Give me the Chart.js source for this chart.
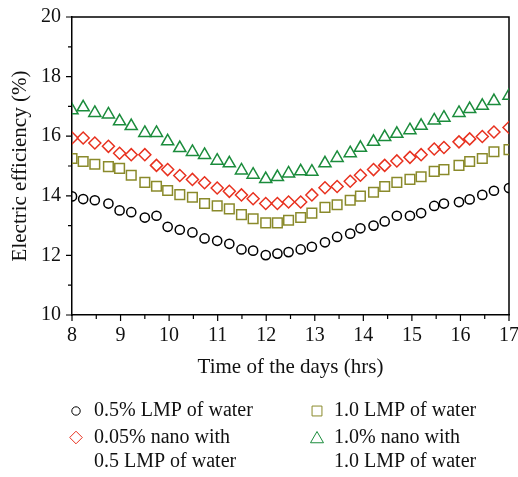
<!DOCTYPE html>
<html>
<head>
<meta charset="utf-8">
<script src="https://cdn.jsdelivr.net/npm/chart.js@4.4.1/dist/chart.umd.min.js"></script>
<style>
  html, body { margin: 0; padding: 0; background: #ffffff; }
  #wrap { width: 518px; height: 477px; position: relative; }
</style>
</head>
<body>
<div id="wrap"><canvas id="c" width="518" height="477"></canvas></div>
<script>
// ---- Data ----
const hours = [8.0, 8.23, 8.47, 8.75, 8.98, 9.22, 9.5, 9.74, 9.97, 10.22, 10.48, 10.73, 10.99, 11.24, 11.49, 11.73, 11.99, 12.23, 12.46, 12.71, 12.94, 13.21, 13.46, 13.73, 13.94, 14.21, 14.44, 14.69, 14.96, 15.19, 15.46, 15.66, 15.97, 16.19, 16.45, 16.69, 17.0];

const lmp05Water = [13.98, 13.89, 13.85, 13.74, 13.51, 13.45, 13.27, 13.33, 12.96, 12.86, 12.77, 12.57, 12.49, 12.39, 12.20, 12.16, 12.01, 12.06, 12.11, 12.20, 12.29, 12.44, 12.62, 12.73, 12.91, 13.00, 13.14, 13.33, 13.33, 13.42, 13.66, 13.74, 13.79, 13.88, 14.03, 14.17, 14.26];

const nano005Lmp05 = [15.94, 15.94, 15.77, 15.66, 15.43, 15.38, 15.38, 15.02, 14.88, 14.68, 14.55, 14.44, 14.26, 14.15, 14.03, 13.90, 13.74, 13.74, 13.79, 13.79, 14.03, 14.27, 14.31, 14.49, 14.69, 14.88, 15.02, 15.17, 15.29, 15.38, 15.57, 15.62, 15.81, 15.91, 15.99, 16.14, 16.29];

const lmp10Water = [15.25, 15.15, 15.06, 14.98, 14.92, 14.69, 14.45, 14.32, 14.18, 14.04, 13.95, 13.74, 13.66, 13.56, 13.37, 13.23, 13.09, 13.09, 13.18, 13.27, 13.42, 13.61, 13.70, 13.85, 13.99, 14.12, 14.31, 14.45, 14.55, 14.64, 14.82, 14.88, 15.02, 15.15, 15.25, 15.48, 15.55];

const nano10Lmp10 = [16.87, 16.97, 16.78, 16.73, 16.50, 16.34, 16.11, 16.11, 15.83, 15.60, 15.47, 15.37, 15.18, 15.09, 14.85, 14.71, 14.56, 14.63, 14.75, 14.82, 14.81, 15.09, 15.27, 15.43, 15.61, 15.81, 15.97, 16.08, 16.20, 16.35, 16.53, 16.62, 16.78, 16.91, 17.02, 17.18, 17.36];

const seriesLabels = [
  ["0.5% LMP of water"],
  ["0.05% nano with", "0.5 LMP of water"],
  ["1.0 LMP of water"],
  ["1.0% nano with", "1.0 LMP of water"]
];

const xTickValues = [8, 9, 10, 11, 12, 13, 14, 15, 16, 17];
const yTickValues = [10, 12, 14, 16, 18, 20];
const xTitle = "Time of the days (hrs)";
const yTitle = "Electric efficiency (%)";

// ---- Styles ----
const FONT = "'Liberation Serif', 'DejaVu Serif', serif";
const styles = [
  { color: '#000000', pointStyle: 'circle',   radius: 4.6, legendRadius: 4.2 },
  { color: '#e8311f', pointStyle: 'rectRot',  radius: 6.0, legendRadius: 6.3 },
  { color: '#8a8a2b', pointStyle: 'rect',     radius: 6.8, legendRadius: 7.0 },
  { color: '#1b8c3c', pointStyle: 'triangle', radius: 7.0, legendRadius: 7.5 }
];
const seriesValues = [lmp05Water, nano005Lmp05, lmp10Water, nano10Lmp10];

function toPoints(xs, ys) { return xs.map((x, i) => ({ x: x, y: ys[i] })); }

const datasets = seriesValues.map((vals, i) => ({
  label: seriesLabels[i].join(' '),
  data: toPoints(hours, vals),
  showLine: false,
  pointStyle: styles[i].pointStyle,
  pointRadius: styles[i].radius,
  pointHoverRadius: styles[i].radius,
  pointBorderWidth: 1.5,
  pointBorderColor: styles[i].color,
  pointBackgroundColor: 'rgba(0,0,0,0)',
  borderColor: styles[i].color,
  backgroundColor: 'rgba(0,0,0,0)'
}));

// Frame (top/right), major + minor outward ticks, drawn via the scales
const framePlugin = {
  id: 'frameTicks',
  beforeDatasetsDraw(chart) {
    const { ctx, chartArea: a, scales } = chart;
    ctx.save();
    ctx.strokeStyle = '#000';
    ctx.lineWidth = 1.5;
    ctx.beginPath();
    ctx.moveTo(a.left, a.top); ctx.lineTo(a.right, a.top); ctx.lineTo(a.right, a.bottom);
    ctx.stroke();
    ctx.lineWidth = 1.2;
    ctx.beginPath();
    const xs = scales.x;
    for (let v = xs.min; v <= xs.max + 1e-9; v += 0.5) {
      const px = xs.getPixelForValue(v);
      const len = Math.abs(v - Math.round(v)) < 1e-6 ? 6 : 4;
      ctx.moveTo(px, a.bottom); ctx.lineTo(px, a.bottom + len);
    }
    const ys = scales.y;
    for (let v = ys.min; v <= ys.max + 1e-9; v += 1) {
      const py = ys.getPixelForValue(v);
      const len = (v % 2 === 0) ? 6 : 4;
      ctx.moveTo(a.left, py); ctx.lineTo(a.left - len, py);
    }
    ctx.stroke();
    ctx.restore();
  }
};

// Two-column legend with multi-line labels
const legendPlugin = {
  id: 'customLegend',
  afterDraw(chart) {
    const ctx = chart.ctx;
    const cols = [{ mx: 76, tx: 94 }, { mx: 317, tx: 334 }];
    const rowY = [411, 437.5];
    const lineGap = 24.5;
    const layout = [[0, 0], [0, 1], [1, 0], [1, 1]];
    ctx.save();
    ctx.font = '20px ' + FONT;
    ctx.textBaseline = 'middle';
    ctx.textAlign = 'left';
    chart.data.datasets.forEach((ds, i) => {
      const c = cols[layout[i][0]];
      const y = rowY[layout[i][1]];
      ctx.strokeStyle = styles[i].color;
      ctx.fillStyle = 'rgba(0,0,0,0)';
      Chart.helpers.drawPoint(ctx, {
        pointStyle: styles[i].pointStyle,
        radius: styles[i].legendRadius,
        borderWidth: 1.5,
        rotation: 0
      }, c.mx, y + (styles[i].pointStyle === 'triangle' ? 1.5 : 0));
      ctx.fillStyle = '#111';
      seriesLabels[i].forEach((line, k) => {
        ctx.fillText(line, c.tx, y + k * lineGap);
      });
    });
    ctx.restore();
  }
};

new Chart(document.getElementById('c'), {
  type: 'scatter',
  data: { datasets: datasets },
  options: {
    responsive: false,
    animation: false,
    devicePixelRatio: 1,
    layout: { padding: { left: 0, right: 9, top: 17, bottom: 97 } },
    plugins: { legend: { display: false }, tooltip: { enabled: false } },
    scales: {
      x: {
        type: 'linear',
        min: 8, max: 17,
        afterBuildTicks(scale) { scale.ticks = xTickValues.map(v => ({ value: v })); },
        afterFit(scale) { scale.height = 65; scale.paddingLeft = 0; scale.paddingRight = 0; },
        ticks: { color: '#111', font: { family: FONT, size: 20 }, padding: 9, maxRotation: 0, autoSkip: false },
        grid: { display: true, drawOnChartArea: false, drawTicks: false, color: 'rgba(0,0,0,0)' },
        border: { display: true, color: '#000', width: 1.5 },
        title: { display: true, text: xTitle, color: '#111', font: { family: FONT, size: 21 }, padding: { top: 0, bottom: 0 } }
      },
      y: {
        type: 'linear',
        min: 10, max: 20,
        afterBuildTicks(scale) { scale.ticks = yTickValues.map(v => ({ value: v })); },
        afterFit(scale) { scale.width = 72; scale.paddingTop = 0; scale.paddingBottom = 0; },
        ticks: { color: '#111', font: { family: FONT, size: 20 }, padding: 11, autoSkip: false },
        grid: { display: true, drawOnChartArea: false, drawTicks: false, color: 'rgba(0,0,0,0)' },
        border: { display: true, color: '#000', width: 1.5 },
        title: { display: true, text: yTitle, color: '#111', font: { family: FONT, size: 21 }, padding: { top: 8, bottom: 0 } }
      }
    }
  },
  plugins: [framePlugin, legendPlugin]
});
</script>
</body>
</html>
